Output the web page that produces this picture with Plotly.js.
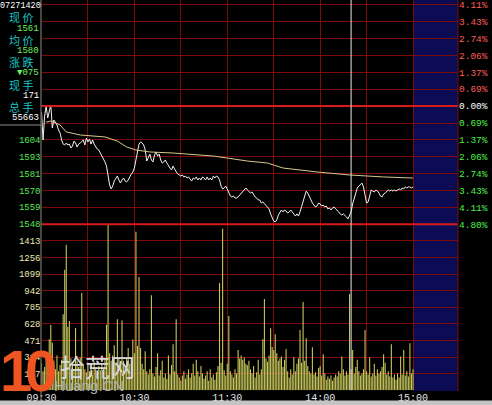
<!DOCTYPE html>
<html><head><meta charset="utf-8">
<script src="https://cdn.plot.ly/plotly-3.0.1.min.js"></script>
<style>html,body{margin:0;padding:0;background:#000;overflow:hidden}#chart{width:492px;height:405px}</style>
</head><body><div id="chart"></div>
<script>
// ---- data ----
const timeTickMinutes = [0, 30, 60, 90, 120, 150, 180, 210, 240];
const timeTickLabels = ['09:30', '', '10:30', '', '11:30', '', '14:00', '', '15:00'];

// minute-by-minute price (minute 0 = 09:30, 120 = 11:30/13:00, 240 = 15:00)
const price = [
1622.0,1603.6,1619.4,1626.0,1618.1,1623.4,1626.7,1611.5,1616.8,1615.4,
1613.5,1610.2,1608.2,1603.6,1600.9,1600.3,1601.6,1600.3,1600.9,1598.3,
1599.6,1602.9,1601.6,1599.0,1600.9,1601.6,1602.9,1603.6,1600.3,1604.9,
1602.3,1604.2,1600.9,1603.6,1600.9,1599.0,1597.6,1597.0,1595.0,1593.0,
1591.7,1589.1,1586.4,1579.8,1573.9,1571.3,1573.2,1576.5,1578.5,1579.8,
1577.2,1575.2,1577.2,1578.5,1576.5,1575.9,1577.2,1579.8,1581.1,1582.5,
1585.1,1590.4,1597.0,1600.9,1602.3,1601.6,1600.3,1597.0,1589.7,1591.7,
1594.3,1590.4,1589.1,1593.7,1595.7,1593.0,1594.3,1590.4,1588.4,1589.1,
1590.4,1588.4,1586.4,1585.1,1583.8,1586.4,1584.4,1582.5,1581.1,1580.5,
1579.8,1580.5,1579.2,1579.8,1578.5,1579.2,1577.8,1576.5,1578.5,1577.8,
1579.2,1577.2,1578.5,1577.2,1579.2,1578.5,1577.2,1579.2,1577.2,1578.5,
1577.2,1579.8,1578.5,1579.8,1579.2,1577.2,1573.2,1571.3,1571.9,1573.2,
1571.3,1568.6,1566.6,1566.0,1566.6,1565.3,1565.3,1566.0,1567.3,1568.6,
1569.9,1571.3,1571.9,1570.6,1569.3,1568.6,1569.3,1567.3,1566.0,1565.3,
1564.0,1564.0,1562.0,1562.7,1561.4,1560.0,1558.7,1558.1,1554.8,1552.1,
1550.1,1549.5,1550.8,1554.1,1556.1,1557.4,1556.1,1557.4,1556.7,1555.4,
1556.1,1557.4,1556.1,1554.8,1553.4,1554.8,1553.4,1556.1,1560.0,1564.0,
1567.3,1569.9,1568.6,1566.0,1564.0,1562.0,1560.7,1559.4,1560.0,1562.0,
1561.4,1560.0,1560.7,1559.4,1560.0,1558.1,1558.7,1557.4,1558.7,1559.4,
1558.1,1556.7,1556.1,1554.8,1554.1,1554.8,1553.4,1552.8,1551.5,1553.4,
1556.1,1561.4,1565.3,1568.6,1571.9,1573.2,1574.6,1575.2,1572.6,1566.6,
1562.0,1562.7,1567.3,1570.6,1569.9,1569.3,1570.6,1569.9,1568.6,1566.6,
1566.0,1568.0,1568.6,1569.9,1570.6,1569.9,1570.6,1569.9,1570.6,1569.9,
1570.6,1571.3,1570.6,1571.9,1571.3,1572.6,1571.9,1572.6,1572.6,1571.9,
1572.6];

// average-price line, read at these minutes
const avgMinutes = [3, 6, 12, 16, 25, 33, 41, 49, 55, 61, 70, 85, 96, 111, 120, 133, 146, 156, 178, 199, 221, 240];
const avgPrice = [1615.4,1616.1,1613.5,1608.9,1606.9,1606.2,1605.6,1602.9,1599.0,1597.0,1595.7,1595.0,1594.3,1593.0,1591.7,1589.7,1588.4,1585.1,1582.5,1580.5,1579.2,1578.5];

// minute volume
const volume = [
260,180,220,300,250,484,617,450,280,200,
330,180,240,290,720,1140,1376,600,655,300,
260,190,590,280,220,310,920,240,200,170,
260,180,220,150,270,200,160,230,190,250,
210,300,620,1565,350,280,330,427,260,673,
300,240,660,280,220,300,400,250,310,480,
350,1500,420,1072,400,250,200,370,180,150,
200,900,160,130,220,350,140,190,280,120,
160,110,330,150,240,436,180,673,150,120,
90,140,180,110,150,200,120,160,250,140,
290,180,130,230,160,110,140,180,90,200,
120,150,100,170,230,1015,260,1527,190,140,
250,702,180,150,120,200,160,380,300,330,
290,310,250,237,280,200,160,230,120,170,
290,150,200,484,863,300,270,330,588,410,
380,530,350,280,300,320,220,290,390,180,
120,200,150,313,180,250,300,570,260,835,
280,493,230,180,160,408,150,170,130,210,
230,140,340,160,100,130,110,140,90,120,
150,130,180,160,320,200,140,180,150,910,
200,380,160,220,290,180,140,160,200,570,
180,150,313,130,160,250,140,200,160,180,
220,340,260,150,180,130,436,120,150,100,
160,120,320,150,380,140,180,130,446,160,
200];

const basePrice = 1626;
const pctLevels = [4.11, 3.43, 2.74, 2.06, 1.37, 0.69, 0, -0.69, -1.37, -2.06, -2.74, -3.43, -4.11, -4.80];
const pctTickLabels = ['4.11%','3.43%','2.74%','2.06%','1.37%','0.69%','0.00%','0.69%','1.37%','2.06%','2.74%','3.43%','4.11%','4.80%'];
const priceTickLabels = ['','','','','','','','','1604','1593','1581','1570','1559','1548'];
const volTickVals = [0,157,314,471,628,785,942,1099,1256,1413,1570];
const volTickLabels = ['','157','314','471','628','785','942','1099','1256','1413',''];

const infoDate = '07271420';
const infoLabels = ['现 价', '均 价', '涨 跌', '现 手', '总 手'];
const infoValues = ['1561', '1580', '▼075', '171', '55663'];
const cursorMinute = 200;
const watermark = ['1', '0', '拾荒网', 'Huang.CN'];

// ---- layout helpers ----
const W = 492, H = 405;
const px = v => v / W;
const py = v => 1 - v / H;
const minutes = price.map((_, i) => i);
const pctTickVals = pctLevels.map(p => basePrice * (1 + p / 100));
const pctText = pctLevels.map((p, k) => {
  const c = p > 0 ? '#ff5c5c' : (p < 0 ? '#4cf04c' : '#ffffff');
  return '<span style="color:' + c + '">' + pctTickLabels[k] + '</span>';
});
const grid = '#7c0c0c';
const mono = 'Liberation Mono, DejaVu Sans Mono, monospace';
const cjk = 'Noto Sans CJK SC, sans-serif';

const traces = [
  { type: 'bar', x: minutes, y: volume, xaxis: 'x', yaxis: 'y2',
    marker: { color: '#c8c85c', line: { width: 0 } }, hoverinfo: 'skip' },
  { type: 'scatter', mode: 'lines', x: avgMinutes, y: avgPrice, xaxis: 'x', yaxis: 'y3',
    line: { color: '#d8c88a', width: 1 }, hoverinfo: 'skip' },
  { type: 'scatter', mode: 'lines', x: minutes, y: price, xaxis: 'x', yaxis: 'y',
    line: { color: '#f2f2f2', width: 1 }, hoverinfo: 'skip' }
];

const yRange = [basePrice * (1 - 0.048), 1696.0];
const xDomain = [px(41.5), px(458)];
const xRange = [0, 269.06];

const annotations = [];
annotations.push({ xref: 'paper', yref: 'paper', x: px(20.5), y: py(6), text: infoDate, showarrow: false,
  xanchor: 'center', yanchor: 'middle', font: { family: mono, size: 8.5, color: '#ffffff' } });
infoLabels.forEach((t, k) => {
  annotations.push({ xref: 'paper', yref: 'paper', x: px(20.5), y: py(17 + k * 22.6), text: t, showarrow: false,
    xanchor: 'center', yanchor: 'middle', font: { family: cjk, size: 11, color: '#19c4c4' } });
  const white = k >= 3;
  annotations.push({ xref: 'paper', yref: 'paper', x: px(41), y: py(28.5 + k * 22.4), text: infoValues[k], showarrow: false,
    xanchor: 'right', yanchor: 'middle', font: { family: mono, size: 9, color: white ? '#ffffff' : '#70f060' } });
});
// watermark overlay
annotations.push({ xref: 'paper', yref: 'paper', x: px(16), y: py(405), text: '<b>' + watermark[0] + '</b>', showarrow: false,
  xanchor: 'center', yanchor: 'bottom', font: { family: 'Liberation Sans, Arial', size: 58, color: '#ee5520' } });
annotations.push({ xref: 'paper', yref: 'paper', x: px(41), y: py(405), text: '<b>' + watermark[1] + '</b>', showarrow: false,
  xanchor: 'center', yanchor: 'bottom', font: { family: 'Liberation Sans, Arial', size: 58, color: '#ee5520' } });
annotations.push({ xref: 'paper', yref: 'paper', x: px(97), y: py(366), text: watermark[2], showarrow: false,
  xanchor: 'center', yanchor: 'middle', font: { family: cjk, size: 25, color: '#d8d8d8' } });
annotations.push({ xref: 'paper', yref: 'paper', x: px(89), y: py(385), text: watermark[3], showarrow: false,
  xanchor: 'center', yanchor: 'middle', font: { family: 'Liberation Sans, Arial', size: 15, color: '#b0b0b0' } });

const shapes = [
  { type: 'rect', layer: 'below', xref: 'x', yref: 'paper', x0: 240, x1: 269.06, y0: py(391), y1: 1,
    fillcolor: '#0c0c54', line: { width: 0 } },
  { type: 'line', layer: 'above', xref: 'paper', yref: 'y', x0: px(41.5), x1: px(458), y0: basePrice, y1: basePrice,
    line: { color: '#d81a1a', width: 2 } },
  { type: 'line', layer: 'above', xref: 'paper', yref: 'paper', x0: px(41.5), x1: px(458), y0: py(224.3), y1: py(224.3),
    line: { color: '#d81a1a', width: 2 } },
  { type: 'line', layer: 'above', xref: 'x', yref: 'paper', x0: cursorMinute, x1: cursorMinute, y0: py(390.3), y1: 1,
    line: { color: '#e8e8e8', width: 1 } },
  { type: 'line', layer: 'above', xref: 'paper', yref: 'paper', x0: px(41), x1: px(41), y0: py(400), y1: 1,
    line: { color: '#8c8c8c', width: 1 } },
  { type: 'line', layer: 'above', xref: 'paper', yref: 'paper', x0: 0, x1: px(41), y0: py(125), y1: py(125),
    line: { color: '#8c8c8c', width: 1 } },
  { type: 'line', layer: 'above', xref: 'paper', yref: 'paper', x0: px(458), x1: px(458), y0: py(391), y1: 1,
    line: { color: grid, width: 1 } },
  { type: 'rect', layer: 'above', xref: 'paper', yref: 'paper', x0: 0, x1: 1, y0: 0, y1: py(400.5),
    fillcolor: '#c4c4c4', line: { width: 0 } }
];

const layout = {
  width: W, height: H,
  margin: { l: 0, r: 0, t: 0, b: 0, pad: 0 },
  paper_bgcolor: '#000000', plot_bgcolor: '#000000',
  showlegend: false, hovermode: false, bargap: 0.3,
  xaxis: { domain: xDomain, range: xRange, anchor: 'y2', tickvals: timeTickMinutes, ticktext: timeTickLabels,
    showgrid: true, gridcolor: grid, gridwidth: 1, zeroline: false, showline: false, ticks: '',
    tickfont: { family: mono, size: 10, color: '#e6e6e6' } },
  yaxis: { domain: [py(224.3), 1], range: yRange, anchor: 'x', side: 'left',
    tickvals: pctTickVals, ticktext: priceTickLabels, showgrid: true, gridcolor: grid, gridwidth: 1,
    zeroline: false, showline: false, ticks: '', tickfont: { family: mono, size: 9, color: '#58e858' } },
  yaxis3: { overlaying: 'y', side: 'right', anchor: 'x', range: yRange,
    tickvals: pctTickVals, ticktext: pctText, showgrid: false, zeroline: false, showline: false, ticks: '',
    tickfont: { family: mono, size: 9.5, color: '#ffffff' } },
  yaxis2: { domain: [py(390.3), py(224.3)], range: [0, 1570], anchor: 'x', side: 'left',
    tickvals: volTickVals, ticktext: volTickLabels, showgrid: true, gridcolor: grid, gridwidth: 1,
    zeroline: false, showline: false, ticks: '', tickfont: { family: mono, size: 9, color: '#ecebb4' } },
  shapes: shapes,
  annotations: annotations
};

Plotly.newPlot('chart', traces, layout, { staticPlot: true, displayModeBar: false });
</script>
</body></html>
